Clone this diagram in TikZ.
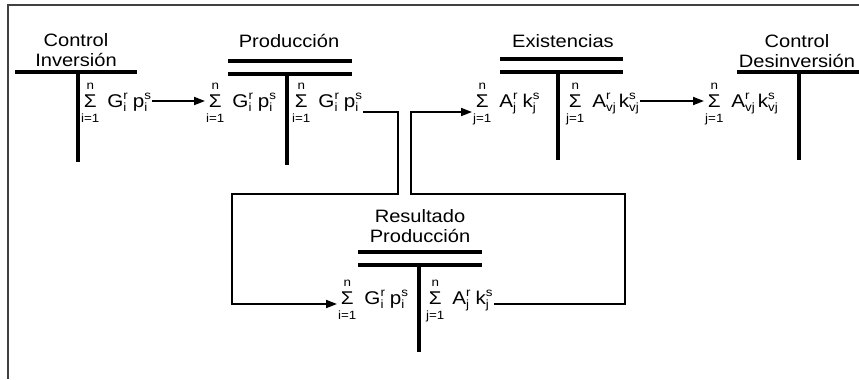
\documentclass[tikz,border=0pt]{standalone}
\usepackage{fontspec}
\setmainfont{Liberation Sans}
\usetikzlibrary{arrows.meta,calc}
\newcommand{\smallf}{\fontsize{12}{12}\selectfont}
\newcommand{\sumcol}[1]{{\renewcommand{\arraystretch}{0.85}\begin{tabular}[c]{@{}c@{}}{\smallf n}\\Σ\\{\smallf #1}\end{tabular}}\hspace{8bp}}
\newcommand{\supsub}[2]{\setbox0\hbox{\smallf#1}\setbox2\hbox{\smallf#2}\ifdim\wd0>\wd2 \dimen0=\wd0 \else\dimen0=\wd2 \fi\hbox to \dimen0{\rlap{\raisebox{7.5bp}{\box0}}\raisebox{-4bp}{\box2}\hss}}
\tikzset{
  tbar/.style={line width=4bp},
  conn/.style={line width=1.8bp},
  arr/.style={conn,-{Triangle[length=11bp,width=8bp]}},
  title/.style={font=\fontsize{18}{20}\selectfont\addfontfeature{FakeStretch=1.12}, align=center, inner sep=0pt},
  formula/.style={font=\fontsize{18.5}{18}\selectfont\addfontfeature{FakeStretch=1.12}, inner sep=1bp, anchor=west},
  frameline/.style={line width=2bp, black!75},
}
\begin{document}
\begin{tikzpicture}[x=1bp,y=-1bp]
\useasboundingbox (0,0) rectangle (859,379);
\draw[frameline] (8,379) -- (8,5) -- (859,5);
% titles
\node[title, anchor=south] (tCI) at (76,67) {Control\\Inversión};
\node[title, anchor=base] (tP) at (289,47) {Producción};
\node[title, anchor=base] (tE) at (563,47) {Existencias};
\node[title, anchor=south] (tCD) at (797,68) {Control\\Desinversión};
\node[title, anchor=south] (tRP) at (420,243) {Resultado\\Producción};
% T bars
\draw[tbar] (15,72) -- (137,72); \draw[tbar] (78,72) -- (78,162);
\draw[tbar] (228,61) -- (352,61); \draw[tbar] (228,74) -- (352,74); \draw[tbar] (287,74) -- (287,165);
\draw[tbar] (500,59) -- (623,59); \draw[tbar] (500,72) -- (623,72); \draw[tbar] (558,72) -- (558,160);
\draw[tbar] (737,72) -- (859,72); \draw[tbar] (799,72) -- (799,160);
\draw[tbar] (358,252) -- (482,252); \draw[tbar] (358,265) -- (482,265); \draw[tbar] (419,265) -- (419,352);
% formulas
\node[formula] (f1) at (80,103) {\sumcol{i=1}G\supsub{r}{i}\hspace{5bp}p\supsub{s}{i}};
\node[formula] (f2) at (205,103) {\sumcol{i=1}G\supsub{r}{i}\hspace{5bp}p\supsub{s}{i}};
\node[formula] (f3) at (291,103) {\sumcol{i=1}G\supsub{r}{i}\hspace{5bp}p\supsub{s}{i}};
\node[formula] (f4) at (472,103) {\sumcol{j=1}A\supsub{r}{j}\hspace{5bp}k\supsub{s}{j}};
\node[formula] (f5) at (565,103) {\sumcol{j=1}A\supsub{r}{vj}\hspace{3bp}k\supsub{s}{vj}};
\node[formula] (f6) at (704,103) {\sumcol{j=1}A\supsub{r}{vj}\hspace{3bp}k\supsub{s}{vj}};
\node[formula] (f7) at (337,300) {\sumcol{i=1}G\supsub{r}{i}\hspace{5bp}p\supsub{s}{i}};
\node[formula] (f8) at (425,300) {\sumcol{j=1}A\supsub{r}{j}\hspace{5bp}k\supsub{s}{j}};
% straight arrows
\draw[arr] ([yshift=2bp]f1.east) -- ([yshift=2bp]f2.west);
\draw[arr] ([yshift=2bp]f5.east) -- ([yshift=2bp]f6.west);
% loop connectors
\coordinate (a1) at (398,112); \coordinate (a2) at (398,194);
\coordinate (a3) at (232,194); \coordinate (a4) at (232,304);
\draw[arr] (f3.east |- a1) -- (a1) -- (a2) -- (a3) -- (a4) -- (a4 -| f7.west);
\coordinate (b1) at (625,304); \coordinate (b2) at (625,194);
\coordinate (b3) at (411,194); \coordinate (b4) at (411,112);
\draw[arr] (f8.east |- b1) -- (b1) -- (b2) -- (b3) -- (b4) -- (b4 -| f4.west);
\end{tikzpicture}
\end{document}
